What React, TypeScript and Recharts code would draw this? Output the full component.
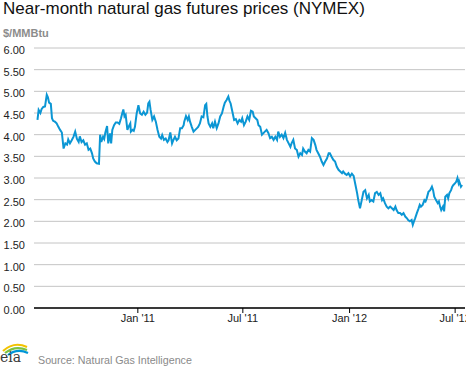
import { LineChart, Line, XAxis, YAxis, CartesianGrid } from 'recharts';

// near-month NYMEX settlement (approx every 3 days)
const dates = [
  '2010-07-12', '2010-07-14', '2010-07-17', '2010-07-19', '2010-07-22', '2010-07-25', '2010-07-28', '2010-07-30',
  '2010-08-01', '2010-08-04', '2010-08-06', '2010-08-08', '2010-08-11', '2010-08-14', '2010-08-17', '2010-08-20',
  '2010-08-23', '2010-08-26', '2010-08-29', '2010-09-01', '2010-09-03', '2010-09-06', '2010-09-09', '2010-09-12',
  '2010-09-15', '2010-09-18', '2010-09-21', '2010-09-23', '2010-09-26', '2010-09-29', '2010-10-02', '2010-10-05',
  '2010-10-08', '2010-10-11', '2010-10-14', '2010-10-16', '2010-10-19', '2010-10-22', '2010-10-26', '2010-10-28',
  '2010-10-30', '2010-11-02', '2010-11-04', '2010-11-06', '2010-11-09', '2010-11-11', '2010-11-14', '2010-11-16',
  '2010-11-18', '2010-11-21', '2010-11-24', '2010-11-27', '2010-11-30', '2010-12-03', '2010-12-05', '2010-12-07',
  '2010-12-09', '2010-12-11', '2010-12-14', '2010-12-16', '2010-12-19', '2010-12-20', '2010-12-23', '2010-12-25',
  '2010-12-27', '2010-12-30',
  '2011-01-02', '2011-01-05', '2011-01-08', '2011-01-11', '2011-01-14', '2011-01-17', '2011-01-19', '2011-01-21',
  '2011-01-23', '2011-01-26', '2011-01-29', '2011-02-01', '2011-02-04', '2011-02-07', '2011-02-10', '2011-02-12',
  '2011-02-15', '2011-02-18', '2011-02-21', '2011-02-23', '2011-02-26', '2011-03-01', '2011-03-03', '2011-03-06',
  '2011-03-09', '2011-03-12', '2011-03-15', '2011-03-18', '2011-03-21', '2011-03-22', '2011-03-25', '2011-03-28',
  '2011-03-30', '2011-04-01', '2011-04-04', '2011-04-07', '2011-04-10', '2011-04-13', '2011-04-15', '2011-04-18',
  '2011-04-21', '2011-04-24', '2011-04-27', '2011-04-29', '2011-05-01', '2011-05-03', '2011-05-06', '2011-05-09',
  '2011-05-11', '2011-05-14', '2011-05-17', '2011-05-20', '2011-05-23', '2011-05-26', '2011-05-29', '2011-05-31',
  '2011-06-03', '2011-06-06', '2011-06-08', '2011-06-10', '2011-06-13', '2011-06-16', '2011-06-19', '2011-06-22',
  '2011-06-25', '2011-06-28', '2011-06-30', '2011-07-03', '2011-07-06', '2011-07-09', '2011-07-12', '2011-07-15',
  '2011-07-18', '2011-07-20', '2011-07-23', '2011-07-26', '2011-07-28', '2011-07-31', '2011-08-03', '2011-08-06',
  '2011-08-08', '2011-08-11', '2011-08-14', '2011-08-17', '2011-08-20', '2011-08-23', '2011-08-26', '2011-08-29',
  '2011-08-31', '2011-09-03', '2011-09-06', '2011-09-09', '2011-09-12', '2011-09-15', '2011-09-18', '2011-09-21',
  '2011-09-23', '2011-09-26', '2011-09-29', '2011-10-02', '2011-10-05', '2011-10-08', '2011-10-11', '2011-10-13',
  '2011-10-16', '2011-10-19', '2011-10-22', '2011-10-25', '2011-10-28', '2011-10-31', '2011-11-03', '2011-11-05',
  '2011-11-08', '2011-11-11', '2011-11-14', '2011-11-17', '2011-11-20', '2011-11-23', '2011-11-26', '2011-11-28',
  '2011-12-01', '2011-12-04', '2011-12-07', '2011-12-10', '2011-12-13', '2011-12-16', '2011-12-19', '2011-12-21',
  '2011-12-24', '2011-12-27', '2011-12-30',
  '2012-01-02', '2012-01-05', '2012-01-08', '2012-01-11', '2012-01-14', '2012-01-16', '2012-01-19', '2012-01-22',
  '2012-01-25', '2012-01-28', '2012-01-31', '2012-02-03', '2012-02-05', '2012-02-08', '2012-02-11', '2012-02-14',
  '2012-02-17', '2012-02-20', '2012-02-23', '2012-02-26', '2012-02-28', '2012-03-02', '2012-03-05', '2012-03-08',
  '2012-03-11', '2012-03-14', '2012-03-17', '2012-03-20', '2012-03-22', '2012-03-25', '2012-03-28', '2012-03-31',
  '2012-04-03', '2012-04-06', '2012-04-09', '2012-04-11', '2012-04-14', '2012-04-17', '2012-04-19', '2012-04-21',
  '2012-04-23', '2012-04-26', '2012-04-29', '2012-05-01', '2012-05-03', '2012-05-06', '2012-05-09', '2012-05-11',
  '2012-05-13', '2012-05-16', '2012-05-19', '2012-05-22', '2012-05-24', '2012-05-26', '2012-05-29', '2012-06-01',
  '2012-06-03', '2012-06-05', '2012-06-07', '2012-06-10', '2012-06-12', '2012-06-14', '2012-06-17', '2012-06-19',
  '2012-06-21', '2012-06-24', '2012-06-26', '2012-06-28', '2012-07-01', '2012-07-03', '2012-07-05', '2012-07-07',
  '2012-07-08', '2012-07-11', '2012-07-13',
];

const prices = [
  4.34, 4.57, 4.50, 4.59, 4.64, 4.65, 4.92, 4.86,
  4.74, 4.71, 4.38, 4.32, 4.30, 4.26, 4.18, 4.11,
  4.05, 3.68, 3.80, 3.77, 3.89, 3.80, 3.87, 3.95,
  4.07, 3.90, 3.83, 3.96, 3.83, 3.87, 3.77, 3.80,
  3.65, 3.68, 3.57, 3.45, 3.38, 3.34, 3.33, 4.00,
  3.83, 3.95, 3.90, 4.05, 4.20, 3.80, 4.03, 3.80,
  4.11, 4.22, 4.28, 4.28, 4.25, 4.38, 4.49, 4.58,
  4.42, 4.46, 4.11, 4.18, 4.26, 4.07, 4.11, 4.09,
  4.18, 4.49,
  4.68, 4.49, 4.46, 4.53, 4.46, 4.51, 4.72, 4.76,
  4.57, 4.34, 4.42, 4.30, 4.11, 3.95, 3.91, 3.99,
  3.88, 3.91, 3.83, 3.87, 4.05, 3.80, 3.87, 3.95,
  3.87, 3.91, 4.15, 4.15, 4.22, 4.30, 4.43, 4.34,
  4.42, 4.30, 4.18, 4.07, 4.11, 4.15, 4.18, 4.26,
  4.42, 4.40, 4.68, 4.71, 4.42, 4.26, 4.18, 4.26,
  4.15, 4.30, 4.15, 4.26, 4.42, 4.49, 4.65, 4.74,
  4.80, 4.88, 4.78, 4.72, 4.53, 4.34, 4.36, 4.26,
  4.34, 4.30, 4.38, 4.22, 4.30, 4.42, 4.34, 4.55,
  4.53, 4.42, 4.38, 4.34, 4.22, 4.18, 4.00, 4.04,
  4.07, 4.11, 4.04, 3.92, 3.95, 3.88, 3.95, 3.88,
  4.07, 3.95, 4.00, 3.92, 4.04, 3.88, 3.80, 3.72,
  3.80, 3.88, 3.68, 3.65, 3.49, 3.57, 3.53, 3.68,
  3.61, 3.57, 3.65, 3.61, 3.92, 3.88, 3.76, 3.65,
  3.57, 3.49, 3.38, 3.30, 3.38, 3.45, 3.57, 3.57,
  3.49, 3.42, 3.38, 3.26, 3.19, 3.15, 3.11, 3.15,
  3.10, 3.07, 3.11,
  3.04, 3.10, 3.05, 2.85, 2.65, 2.49, 2.30, 2.49,
  2.68, 2.72, 2.53, 2.61, 2.46, 2.49, 2.46, 2.65,
  2.68, 2.61, 2.65, 2.49, 2.53, 2.42, 2.34, 2.30,
  2.34, 2.30, 2.26, 2.34, 2.26, 2.19, 2.19, 2.15,
  2.19, 2.11, 2.07, 2.03, 2.00, 2.03, 1.92, 2.00,
  2.07, 2.19, 2.30, 2.38, 2.34, 2.38, 2.49, 2.46,
  2.53, 2.68, 2.72, 2.80, 2.72, 2.57, 2.49, 2.42,
  2.46, 2.34, 2.26, 2.34, 2.23, 2.57, 2.61, 2.53,
  2.65, 2.72, 2.80, 2.84, 2.88, 2.92, 3.00, 2.88,
  2.92, 2.80, 2.84,
];

const tickDates = ['2011-01-01', '2011-07-01', '2012-01-01', '2012-07-01'];
const tickLabels = ["Jan '11", "Jul '11", "Jan '12", "Jul '12"];
const yTicks = [0, 0.5, 1, 1.5, 2, 2.5, 3, 3.5, 4, 4.5, 5, 5.5, 6];
const axisStart = '2010-07-06';
const axisEnd = '2012-07-18';

const BASE = Date.UTC(2011, 0, 1);
const toDay = (s: string) => {
  const [y, m, d] = s.split('-').map(Number);
  return Math.round((Date.UTC(y, m - 1, d) - BASE) / 86400000);
};

const data = dates.map((d, i) => ({ day: toDay(d), price: prices[i] }));
const xTicks = tickDates.map(toDay);

const FONT = '"Liberation Sans", Arial, sans-serif';

const EiaLogo = () => (
  <svg width={30} height={30} style={{ position: 'absolute', left: 0, top: 337 }}>
    <path d="M3 14 Q14 4 27 10" stroke="#f2c200" strokeWidth={2.2} fill="none" />
    <path d="M5 16 Q15 8 27 13" stroke="#7cc242" strokeWidth={2.2} fill="none" />
    <path d="M8 18 Q17 11 28 16" stroke="#0096d6" strokeWidth={2.2} fill="none" />
    <text x={0} y={25} fontFamily="DejaVu Serif, serif" fontSize={14} fill="#3a3a3a">eia</text>
  </svg>
);

export default function App() {
  return (
    <div style={{ position: 'relative', width: 466, height: 368, background: '#fff', overflow: 'hidden', fontFamily: FONT }}>
      <style>{'body{margin:0}'}</style>
      <div style={{ position: 'absolute', left: 3, top: 0, fontSize: 17, lineHeight: '18px', color: '#111', whiteSpace: 'nowrap' }}>
        Near-month natural gas futures prices (NYMEX)
      </div>
      <div style={{ position: 'absolute', left: 3, top: 27, fontSize: 11, fontWeight: 700, color: '#8c8c8c' }}>
        $/MMBtu
      </div>
      <div style={{ position: 'absolute', left: 0, top: 0 }}>
        <LineChart width={466} height={340} data={data} margin={{ top: 48, right: 1, bottom: 8, left: 0 }}>
          <CartesianGrid vertical={false} stroke="#c4c4c4" />
          <XAxis
            dataKey="day"
            type="number"
            domain={[toDay(axisStart), toDay(axisEnd)]}
            ticks={xTicks}
            tickFormatter={(v: number) => tickLabels[xTicks.indexOf(v)] ?? ''}
            axisLine={{ stroke: '#000', strokeWidth: 1.5 }}
            tickLine={{ stroke: '#000' }}
            tickSize={5}
            tickMargin={1}
            height={24}
            tick={{ fill: '#222', fontSize: 11, fontFamily: FONT }}
            interval={0}
            allowDataOverflow
          />
          <YAxis
            type="number"
            domain={[0, 6]}
            ticks={yTicks}
            width={34}
            axisLine={false}
            tickLine={false}
            tickSize={0}
            tickMargin={9}
            tickFormatter={(v: number) => v.toFixed(2)}
            tick={{ fill: '#222', fontSize: 11, fontFamily: FONT, dy: 2 }}
            interval={0}
          />
          <Line
            type="linear"
            dataKey="price"
            stroke="#0b96d4"
            strokeWidth={2}
            dot={false}
            isAnimationActive={false}
          />
        </LineChart>
      </div>
      <EiaLogo />
      <div style={{ position: 'absolute', left: 38, top: 354, fontSize: 10.7, color: '#8a8a8a', whiteSpace: 'nowrap' }}>
        Source: Natural Gas Intelligence
      </div>
    </div>
  );
}
